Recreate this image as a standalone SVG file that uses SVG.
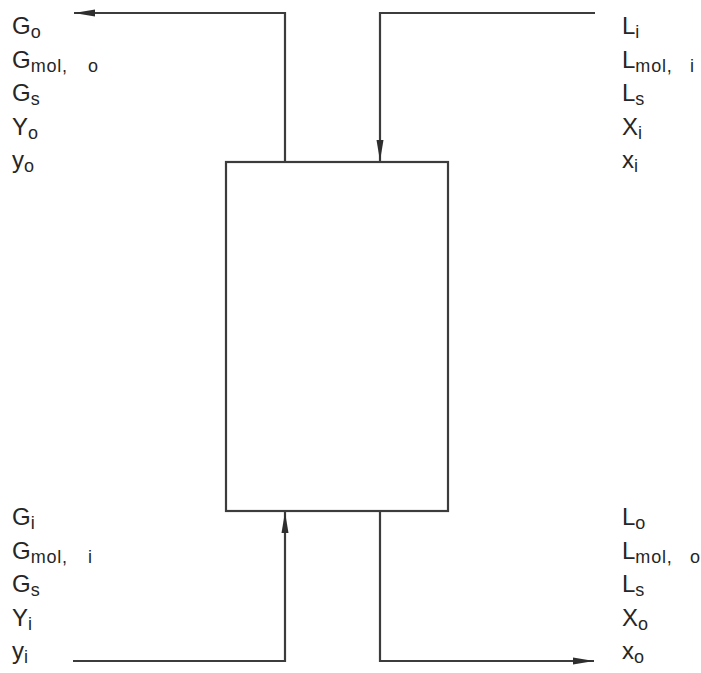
<svg xmlns="http://www.w3.org/2000/svg" width="701" height="673" viewBox="0 0 701 673">
<style>
.ln{fill:none;stroke:#3c3c3c;stroke-width:2.2}
.box{fill:#fff;stroke:#3c3c3c;stroke-width:2.2}
text{font-family:"Liberation Sans",Arial,sans-serif;font-size:24px;fill:#262626}
.s{font-size:18px;letter-spacing:0.8px}
</style>
<defs>
<marker id="ah" markerUnits="userSpaceOnUse" markerWidth="22" markerHeight="8" refX="21" refY="4" orient="auto">
<path d="M0,0.5 L21,4 L0,7.5 z" fill="#2e2e2e"/>
</marker>
</defs>
<g id="connectors">
<path class="ln" d="M285,162 V13 H74" marker-end="url(#ah)"/>
<path class="ln" d="M595,13 H380 V161" marker-end="url(#ah)"/>
<path class="ln" d="M73,661 H285 V512" marker-end="url(#ah)"/>
<path class="ln" d="M380,511 V661 H594" marker-end="url(#ah)"/>
</g>
<g id="column">
<rect class="box" x="226" y="162" width="222" height="349"/>
</g>
<g id="gas-outlet-labels">
<text x="12" y="34">G<tspan class="s" dy="4">o</tspan></text>
<text x="12" y="68">G<tspan class="s" dy="4">mol, <tspan x="88">o</tspan></tspan></text>
<text x="12" y="101">G<tspan class="s" dy="4">s</tspan></text>
<text x="12" y="135">Y<tspan class="s" dy="4">o</tspan></text>
<text x="12" y="168">y<tspan class="s" dy="4">o</tspan></text>
</g>
<g id="liquid-inlet-labels">
<text x="622" y="34">L<tspan class="s" dy="4">i</tspan></text>
<text x="622" y="68">L<tspan class="s" dy="4">mol, <tspan x="690">i</tspan></tspan></text>
<text x="622" y="101">L<tspan class="s" dy="4">s</tspan></text>
<text x="622" y="135">X<tspan class="s" dy="4">i</tspan></text>
<text x="622" y="168">x<tspan class="s" dy="4">i</tspan></text>
</g>
<g id="gas-inlet-labels">
<text x="12" y="525">G<tspan class="s" dy="4">i</tspan></text>
<text x="12" y="559">G<tspan class="s" dy="4">mol, <tspan x="88">i</tspan></tspan></text>
<text x="12" y="592">G<tspan class="s" dy="4">s</tspan></text>
<text x="12" y="626">Y<tspan class="s" dy="4">i</tspan></text>
<text x="12" y="659">y<tspan class="s" dy="4">i</tspan></text>
</g>
<g id="liquid-outlet-labels">
<text x="622" y="525">L<tspan class="s" dy="4">o</tspan></text>
<text x="622" y="559">L<tspan class="s" dy="4">mol, <tspan x="690">o</tspan></tspan></text>
<text x="622" y="592">L<tspan class="s" dy="4">s</tspan></text>
<text x="622" y="626">X<tspan class="s" dy="4">o</tspan></text>
<text x="622" y="659">x<tspan class="s" dy="4">o</tspan></text>
</g>
</svg>
